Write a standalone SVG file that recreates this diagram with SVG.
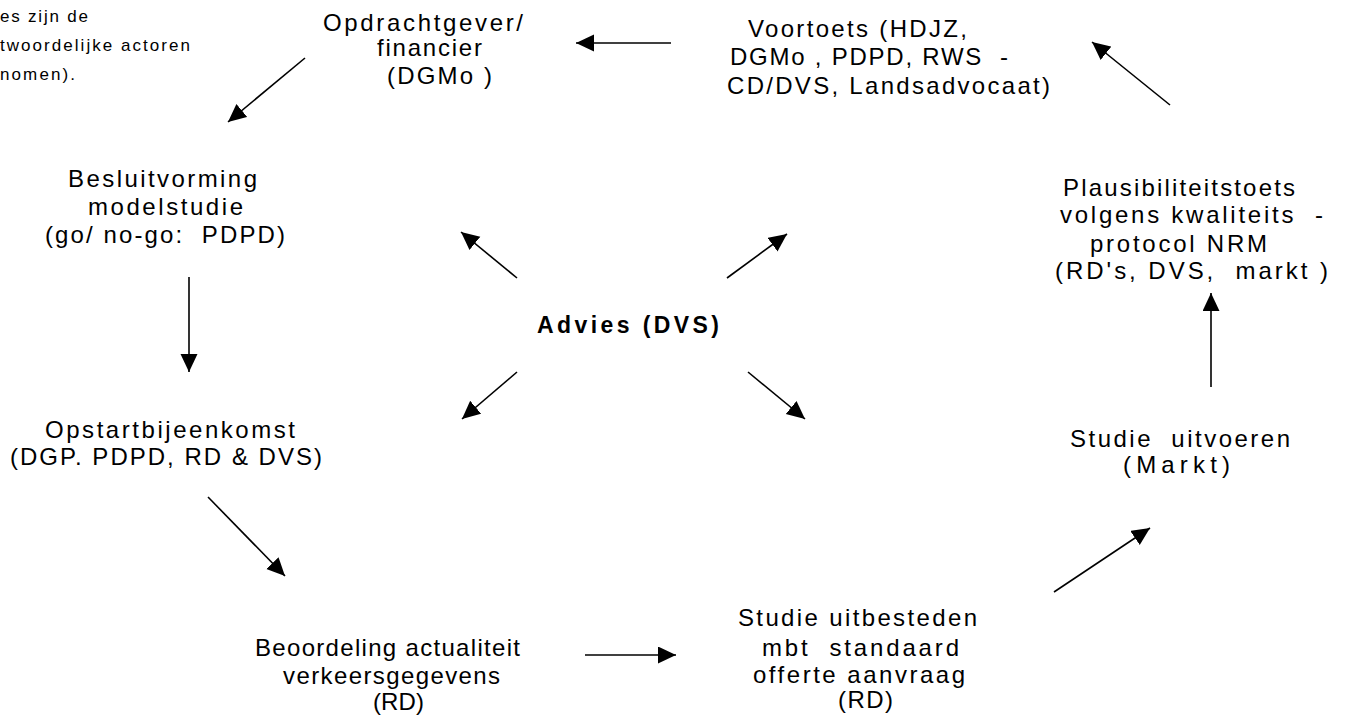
<svg xmlns="http://www.w3.org/2000/svg" width="1345" height="719" viewBox="0 0 1345 719">
<style>
text { font-family: "Liberation Sans", Arial, Helvetica, sans-serif; font-size: 24px; fill: #000; white-space: pre; }
.note { font-size: 17px; }
.bold { font-weight: bold; font-size: 23px; }
.conn line { stroke: #000; stroke-width: 1.6; fill: none; marker-end: url(#ah); }
</style>
<defs>
<marker id="ah" markerUnits="userSpaceOnUse" markerWidth="19" markerHeight="18" refX="18" refY="8.5" orient="auto" viewBox="0 0 19 18">
<path d="M0,0 L18,8.5 L0,17 z" fill="#000"/>
</marker>
</defs>
<rect width="1345" height="719" fill="#fff"/>

<g id="note">
<text class="note" x="0" y="22" textLength="88" lengthAdjust="spacing">es zijn de</text>
<text class="note" x="0" y="51" textLength="190" lengthAdjust="spacing">twoordelijke actoren</text>
<text class="note" x="0" y="80" textLength="75" lengthAdjust="spacing">nomen).</text>
</g>

<g id="opdrachtgever">
<text x="323" y="31" textLength="200" lengthAdjust="spacing">Opdrachtgever/</text>
<text x="377" y="56" textLength="105" lengthAdjust="spacing">financier</text>
<text x="387" y="84" textLength="105" lengthAdjust="spacing">(DGMo )</text>
</g>

<g id="voortoets">
<text x="748" y="37" textLength="219" lengthAdjust="spacing">Voortoets (HDJZ,</text>
<text x="730" y="65" textLength="278" lengthAdjust="spacing">DGMo , PDPD, RWS  -</text>
<text x="727" y="94" textLength="323" lengthAdjust="spacing">CD/DVS, Landsadvocaat)</text>
</g>

<g id="besluitvorming">
<text x="68" y="187" textLength="189" lengthAdjust="spacing">Besluitvorming</text>
<text x="88" y="215" textLength="155" lengthAdjust="spacing">modelstudie</text>
<text x="45" y="243" textLength="240" lengthAdjust="spacing">(go/ no-go:  PDPD)</text>
</g>

<g id="plausibiliteitstoets">
<text x="1063" y="196" textLength="232" lengthAdjust="spacing">Plausibiliteitstoets</text>
<text x="1060" y="223" textLength="263" lengthAdjust="spacing">volgens kwaliteits  -</text>
<text x="1090" y="252" textLength="177" lengthAdjust="spacing">protocol NRM</text>
<text x="1055" y="279" textLength="273" lengthAdjust="spacing">(RD's, DVS,  markt )</text>
</g>

<g id="advies">
<text class="bold" x="537" y="333" textLength="182" lengthAdjust="spacing">Advies (DVS)</text>
</g>

<g id="opstartbijeenkomst">
<text x="45" y="438" textLength="250" lengthAdjust="spacing">Opstartbijeenkomst</text>
<text x="10" y="465" textLength="312" lengthAdjust="spacing">(DGP. PDPD, RD &amp; DVS)</text>
</g>

<g id="studie-uitvoeren">
<text x="1070" y="447" textLength="220" lengthAdjust="spacing">Studie  uitvoeren</text>
<text x="1123" y="473" textLength="107" lengthAdjust="spacing">(Markt)</text>
</g>

<g id="beoordeling">
<text x="255" y="656" textLength="265" lengthAdjust="spacing">Beoordeling actualiteit</text>
<text x="283" y="684" textLength="217" lengthAdjust="spacing">verkeersgegevens</text>
<text x="373" y="710" textLength="51" lengthAdjust="spacing">(RD)</text>
</g>

<g id="studie-uitbesteden">
<text x="738" y="626" textLength="239" lengthAdjust="spacing">Studie uitbesteden</text>
<text x="762" y="656" textLength="197" lengthAdjust="spacing">mbt  standaard</text>
<text x="753" y="683" textLength="212" lengthAdjust="spacing">offerte aanvraag</text>
<text x="838" y="708" textLength="55" lengthAdjust="spacing">(RD)</text>
</g>

<g id="connectors" class="conn">
<line x1="671" y1="43" x2="576" y2="43"/>
<line x1="1170" y1="105" x2="1092" y2="42"/>
<line x1="305" y1="58" x2="228" y2="122"/>
<line x1="189" y1="277" x2="189" y2="372"/>
<line x1="208" y1="497" x2="285" y2="576"/>
<line x1="585" y1="655" x2="676" y2="655"/>
<line x1="1054" y1="592" x2="1150" y2="528"/>
<line x1="1211" y1="387" x2="1211" y2="293"/>
<line x1="517" y1="278" x2="461" y2="232"/>
<line x1="727" y1="278" x2="787" y2="234"/>
<line x1="517" y1="372" x2="462" y2="419"/>
<line x1="748" y1="372" x2="805" y2="419"/>
</g>
</svg>
